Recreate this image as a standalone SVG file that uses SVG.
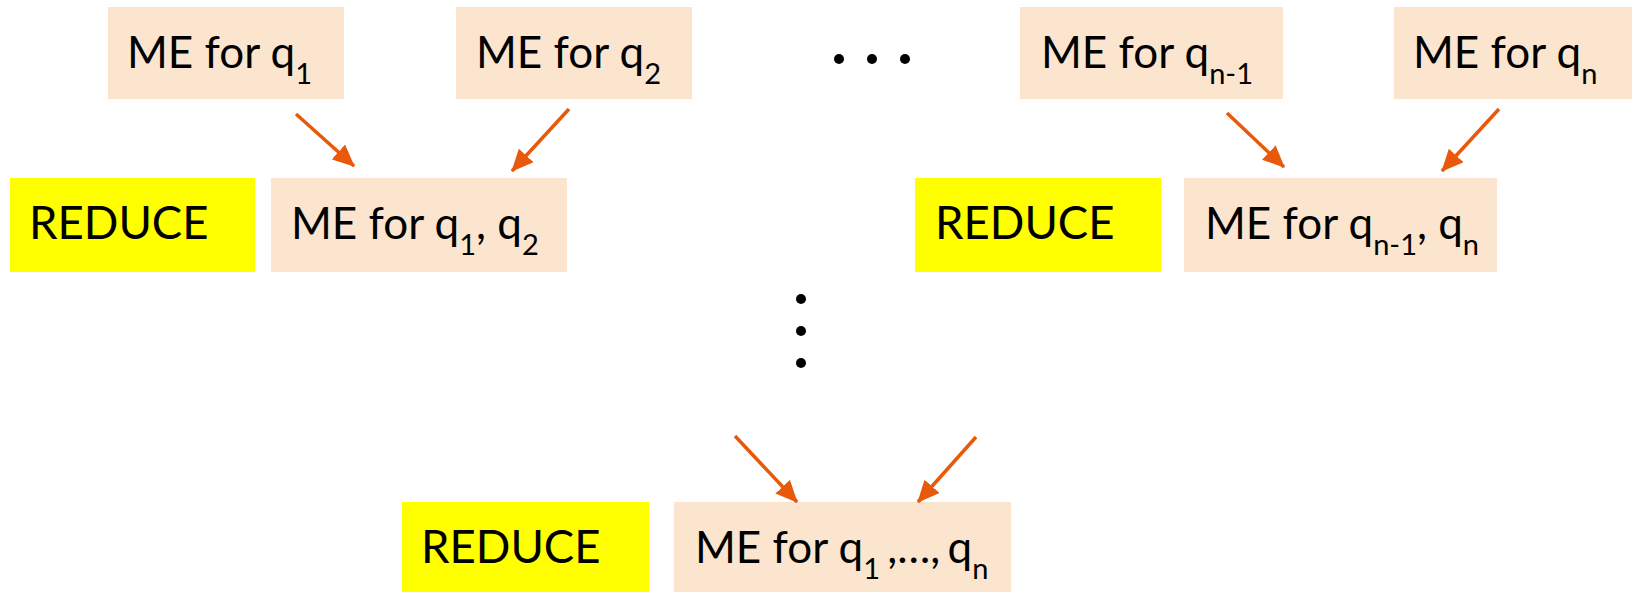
<svg xmlns="http://www.w3.org/2000/svg" width="1632" height="592" viewBox="0 0 1632 592">
<style>
.me{fill:#fbe5cf}
.rd{fill:#ffff00}
text{font-family:Lato,"Liberation Sans",sans-serif;font-size:44px;fill:#000}
.s{font-size:29px}
.c line{stroke:#e8590c;stroke-width:3.5;marker-end:url(#ah)}
.dot{fill:#000}
</style>
<defs>
<marker id="ah" markerUnits="userSpaceOnUse" markerWidth="22" markerHeight="20" refX="21" refY="10" orient="auto" viewBox="0 0 22 20">
<path d="M0,0 L22,10 L0,20 Z" fill="#e8590c"/>
</marker>
</defs>
<g id="n1"><rect class="me" x="108" y="7" width="236" height="92"/><text x="127" y="68">ME for q<tspan class="s" dy="16">1</tspan></text></g>
<g id="n2"><rect class="me" x="456" y="7" width="236" height="92"/><text x="476" y="68">ME for q<tspan class="s" dy="16">2</tspan></text></g>
<g id="n3"><rect class="me" x="1020" y="7" width="263" height="92"/><text x="1041" y="68">ME for q<tspan class="s" dy="16">n-1</tspan></text></g>
<g id="n4"><rect class="me" x="1394" y="7" width="238" height="92"/><text x="1413" y="68">ME for q<tspan class="s" dy="16">n</tspan></text></g>
<g id="r1"><rect class="rd" x="10" y="178" width="245" height="94"/><text x="29" y="239" style="font-size:45.5px">REDUCE</text></g>
<g id="n12"><rect class="me" x="271" y="178" width="296" height="94"/><text x="291" y="239">ME for q<tspan class="s" dy="16">1</tspan><tspan dy="-16">, q</tspan><tspan class="s" dy="16">2</tspan></text></g>
<g id="r2"><rect class="rd" x="915" y="178" width="246" height="94"/><text x="935" y="239" style="font-size:45.5px">REDUCE</text></g>
<g id="nn"><rect class="me" x="1184" y="178" width="313" height="94"/><text x="1205" y="239">ME for q<tspan class="s" dy="16">n-1</tspan><tspan dy="-16">, q</tspan><tspan class="s" dy="16">n</tspan></text></g>
<g id="r3"><rect class="rd" x="402" y="502" width="247" height="90"/><text x="421" y="563" style="font-size:45.5px">REDUCE</text></g>
<g id="nall"><rect class="me" x="674" y="502" width="337" height="90"/><text x="695" y="563">ME for q<tspan class="s" dy="16">1</tspan><tspan dy="-16" style="word-spacing:-4px"> ,…, q</tspan><tspan class="s" dy="16">n</tspan></text></g>
<g id="dots">
<circle class="dot" cx="839" cy="59" r="5"/><circle class="dot" cx="872" cy="59" r="5"/><circle class="dot" cx="905" cy="59" r="5"/>
<circle class="dot" cx="801" cy="299" r="5"/><circle class="dot" cx="801" cy="331" r="5"/><circle class="dot" cx="801" cy="363" r="5"/>
</g>
<g id="connectors" class="c">
<line x1="296" y1="114" x2="354" y2="166"/>
<line x1="569" y1="109" x2="512" y2="171"/>
<line x1="1227" y1="113" x2="1284" y2="167"/>
<line x1="1499" y1="109" x2="1442" y2="171"/>
<line x1="735" y1="436" x2="797" y2="502"/>
<line x1="976" y1="437" x2="918" y2="502"/>
</g>
</svg>
